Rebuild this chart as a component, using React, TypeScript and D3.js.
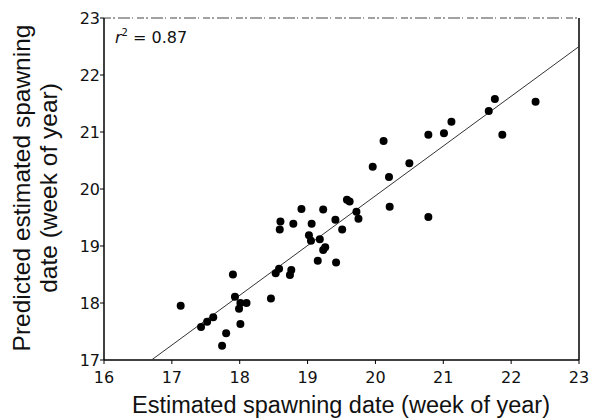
import React from "react";
import * as d3 from "d3";

const xTicks = [16, 17, 18, 19, 20, 21, 22, 23];
const yTicks = [17, 18, 19, 20, 21, 22, 23];
const obsX = [17.13, 17.43, 17.52, 17.61, 17.74, 17.80, 17.90, 17.93, 17.99, 18.01, 18.10, 18.01, 18.46, 18.53, 18.58, 18.74, 18.76, 18.60, 18.59, 18.79, 18.91, 19.06, 19.23, 19.02, 19.05, 19.18, 19.23, 19.26, 19.15, 19.42, 19.41, 19.51, 19.58, 19.62, 19.72, 19.75, 19.96, 20.12, 20.20, 20.21, 20.50, 20.78, 20.78, 21.01, 21.12, 21.67, 21.76, 21.87, 22.36];
const predY = [17.95, 17.58, 17.67, 17.75, 17.25, 17.47, 18.50, 18.11, 17.90, 18.00, 18.00, 17.63, 18.08, 18.52, 18.60, 18.49, 18.58, 19.43, 19.29, 19.39, 19.65, 19.39, 19.64, 19.19, 19.09, 19.12, 18.93, 18.98, 18.74, 18.71, 19.46, 19.29, 19.81, 19.78, 19.60, 19.48, 20.39, 20.84, 20.21, 19.69, 20.45, 20.95, 19.51, 20.98, 21.18, 21.37, 21.58, 20.95, 21.53];
const fitX = [16.7, 23];
const fitY = [17, 22.5];

export default function App() {
  const W = 595, H = 418;
  const x = d3.scaleLinear().domain([16, 23]).range([104, 579]);
  const y = d3.scaleLinear().domain([17, 23]).range([360, 18]);
  const font = "Liberation Sans, Arial, sans-serif";
  const tickFont = "DejaVu Sans, sans-serif";
  const line = d3.line<number>().x((d, i) => x(fitX[i])).y((d, i) => y(fitY[i]));
  return (
    <svg width={W} height={H} style={{ position: "absolute", left: 0, top: 0 }} fontFamily={font}>
      <rect width={W} height={H} fill="#fff" />
      {/* top border (broken) */}
      <line x1={x(16)} x2={x(23)} y1={y(23)} y2={y(23)} stroke="#444" strokeWidth={1} strokeDasharray="7,2,2,3,12,2,1,4" />
      {/* right border */}
      <line x1={x(23)} x2={x(23)} y1={y(23)} y2={y(17)} stroke="#000" strokeWidth={1.5} />
      {/* axes */}
      <line x1={x(16)} x2={x(23)} y1={y(17)} y2={y(17)} stroke="#000" strokeWidth={1.5} />
      <line x1={x(16)} x2={x(16)} y1={y(23)} y2={y(17)} stroke="#000" strokeWidth={1.5} />
      {xTicks.map((t) => (
        <g key={"x" + t}>
          <line x1={x(t)} x2={x(t)} y1={y(17)} y2={y(17) + 4} stroke="#000" />
          <text x={x(t)} y={383} fontSize={16} fontFamily={tickFont} textAnchor="middle" fill="#111">{t}</text>
        </g>
      ))}
      {yTicks.map((t) => (
        <g key={"y" + t}>
          <line x1={x(16) - 4} x2={x(16)} y1={y(t)} y2={y(t)} stroke="#000" />
          <text x={100} y={y(t) + 6} fontSize={16} fontFamily={tickFont} textAnchor="end" fill="#111">{t}</text>
        </g>
      ))}
      <path d={line(fitX) || ""} fill="none" stroke="#333" strokeWidth={1} />
      {obsX.map((v, i) => (
        <circle key={i} cx={x(v)} cy={y(predY[i])} r={4} fill="#000" />
      ))}
      <text x={115} y={43} fontSize={16} fontFamily={tickFont} fill="#111">
        <tspan fontStyle="italic">r</tspan>
        <tspan fontSize={10} dy={-7}>2</tspan>
        <tspan dy={7}> = 0.87</tspan>
      </text>
      <text x={341} y={413} fontSize={23.5} textAnchor="middle" fill="#111">Estimated spawning date (week of year)</text>
      <g transform={`translate(30, ${y(20) - 1}) rotate(-90)`}>
        <text x={0} y={0} fontSize={24.5} textAnchor="middle" fill="#111">Predicted estimated spawning</text>
        <text x={0} y={27} fontSize={24.5} textAnchor="middle" fill="#111">date (week of year)</text>
      </g>
    </svg>
  );
}
